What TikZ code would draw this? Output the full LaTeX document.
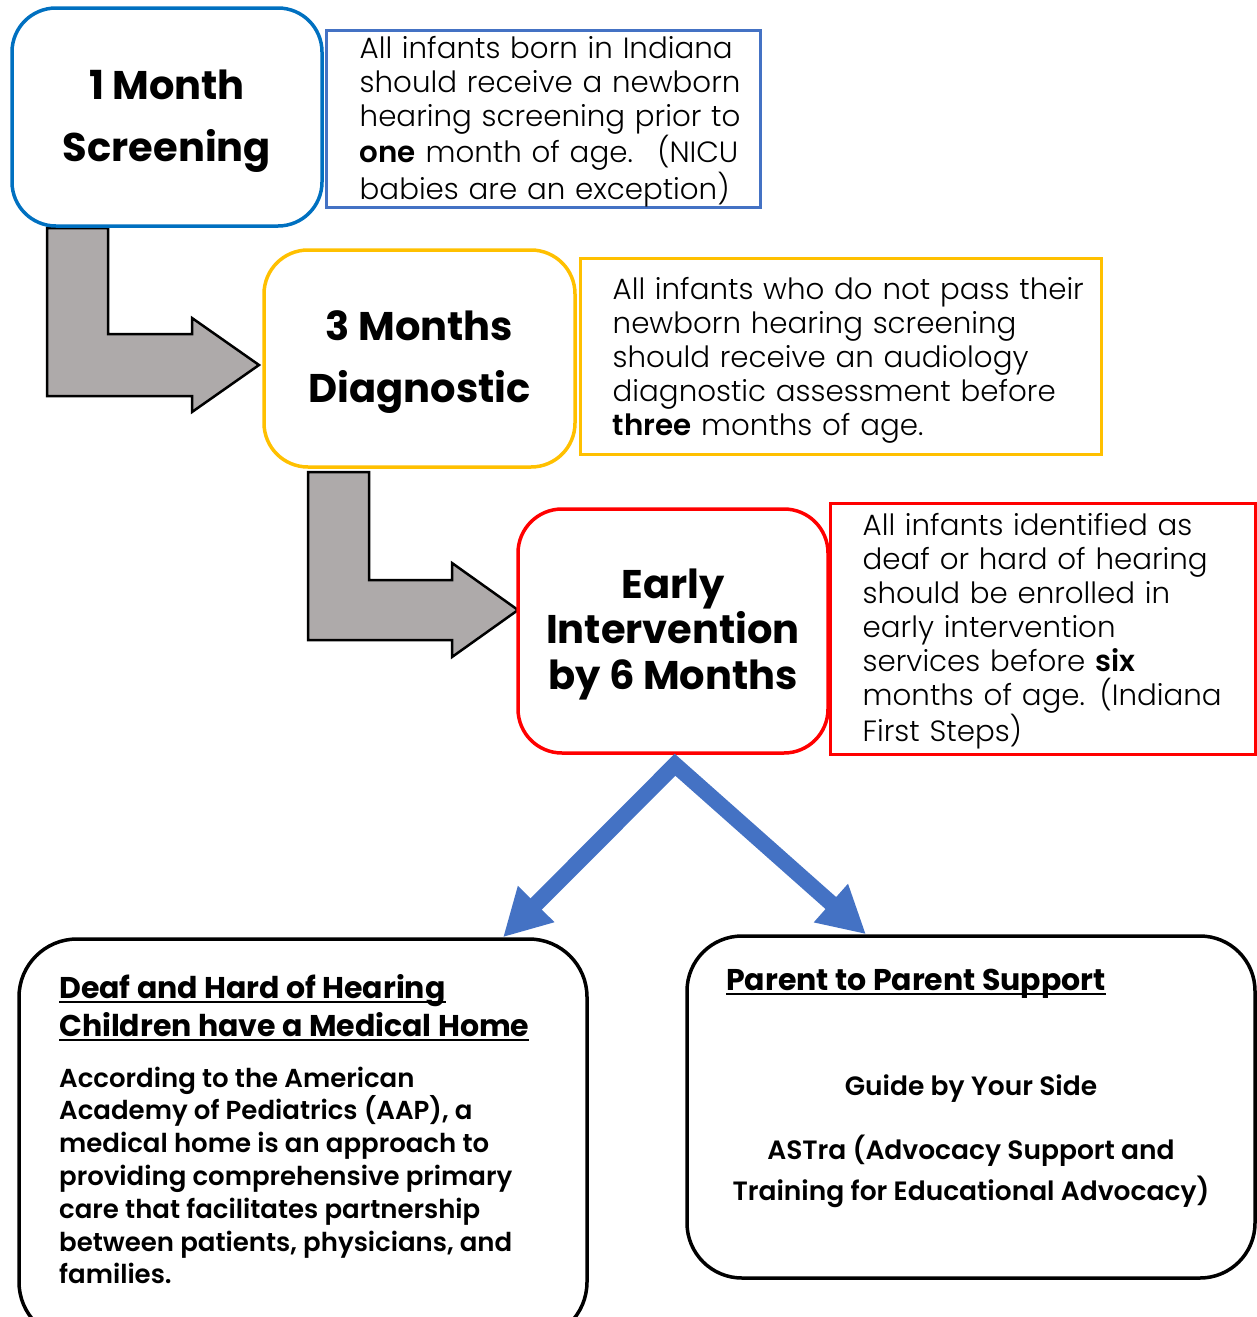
\documentclass[tikz,border=0pt]{standalone}
\usepackage{fontspec}
\setmainfont{Poppins}
\IfFontExistsTF{Poppins Light}{\newfontfamily\lightfont{Poppins Light}}{\newfontfamily\lightfont{Poppins}}
\IfFontExistsTF{Poppins SemiBold}{\newfontfamily\semifont{Poppins SemiBold}}{\newcommand\semifont{\normalfont\bfseries}}
\usetikzlibrary{arrows.meta}
\definecolor{bluebox}{HTML}{0070C0}
\definecolor{bluedesc}{HTML}{4472C4}
\definecolor{yellowbox}{HTML}{FFC000}
\definecolor{redbox}{HTML}{FF0000}
\definecolor{grayfill}{HTML}{AEAAAA}
\newcommand\myul[1]{\setbox0\hbox{#1}\leavevmode\rlap{\rule[-4.5pt]{\wd0}{2.5pt}}\box0}
\begin{document}
\begin{tikzpicture}[x=1pt,y=-1pt,
  stage/.style={draw, rounded corners=44pt, line width=3.5pt, fill=white, inner sep=0pt},
  stagetext/.style={align=center, inner sep=0pt, font=\bfseries\fontsize{40}{62}\selectfont},
  descbox/.style={draw, line width=3pt, inner sep=0pt},
  desctext/.style={anchor=west, inner sep=0pt, align=left, text width=520pt,
    font=\lightfont\fontsize{29.3}{34}\selectfont},
  bigbox/.style={draw, rounded corners=58pt, line width=3.5pt, inner sep=0pt},
  blockarrow/.style={fill=grayfill, draw=black, line width=2.5pt, line join=miter},
  bluearrow/.style={draw=bluedesc, line width=16pt, line join=miter,
    arrows={Triangle[length=47pt,width=48pt]-Triangle[length=47pt,width=48pt]}},
  plain/.style={inner sep=0pt}
]
\useasboundingbox (0,0) rectangle (1257,1317);

% block arrows (behind boxes)
\draw[blockarrow] (47,228) -- (108,228) -- (108,334) -- (192,334) -- (192,318) -- (259,365)
  -- (192,412) -- (192,396) -- (47,396) -- cycle;
\draw[blockarrow] (308,472) -- (369,472) -- (369,580) -- (452,580) -- (452,563) -- (518,610)
  -- (452,657) -- (452,640) -- (308,640) -- cycle;

% stage boxes
\node[stage, draw=bluebox, minimum width=310pt, minimum height=218pt] (b1) at (167,117) {};
\node[stagetext] (s1) at ([yshift=-4pt]b1.center) {1 Month\\Screening};
\node[stage, draw=yellowbox, minimum width=311pt, minimum height=217pt] (b2) at (419.5,358.5) {};
\node[stagetext] (s2) at ([yshift=-3.5pt]b2.center) {3 Months\\Diagnostic};
\node[stage, draw=redbox, minimum width=310pt, minimum height=244pt] (b3) at (673,631) {};
\node[stagetext, font=\bfseries\fontsize{40}{45.5}\selectfont] (s3) at ([yshift=-3pt]b3.center)
  {Early\\Intervention\\by 6 Months};

% description boxes
\node[descbox, draw=bluedesc, minimum width=434pt, minimum height=177pt] (d1) at (543,118.5) {};
\node[desctext] (t1) at ([xshift=35pt,yshift=-3pt]d1.west)
  {All infants born in Indiana\\should receive a newborn\\hearing screening prior to\\{\semifont one} month of age.~ (NICU\\babies are an exception)};
\node[descbox, draw=yellowbox, minimum width=521pt, minimum height=196pt] (d2) at (840.5,356) {};
\node[desctext] (t2) at ([xshift=34pt,yshift=-4pt]d2.west)
  {All infants who do not pass their\\newborn hearing screening\\should receive an audiology\\diagnostic assessment before\\{\semifont three} months of age.};
\node[descbox, draw=redbox, minimum width=425pt, minimum height=251pt] (d3) at (1042.5,628.5) {};
\node[desctext] (t3) at ([xshift=34pt,yshift=-3pt]d3.west)
  {All infants identified as\\deaf or hard of hearing\\should be enrolled in\\early intervention\\services before {\semifont six}\\months of age. (Indiana\\First Steps)};

% bottom boxes
\node[bigbox, minimum width=568pt, minimum height=401pt] (b4) at (303,1139.5) {};
\node[bigbox, rounded corners=55pt, minimum width=568pt, minimum height=342pt] (b5) at (971,1107) {};

\node[plain, anchor=west, align=left, font=\bfseries\fontsize{30}{38}\selectfont] (h4) at (59,1008)
  {\myul{Deaf and Hard of Hearing}\\\myul{Children have a Medical Home}};
\node[plain, anchor=west, align=left, font=\semifont\fontsize{26}{32.8}\selectfont] (p4) at (59,1175.5)
  {According to the American\\Academy of Pediatrics (AAP), a\\medical home is an approach to\\providing comprehensive primary\\care that facilitates partnership\\between patients, physicians, and\\families.};

\node[plain, anchor=west, font=\bfseries\fontsize{30}{38}\selectfont] (h5) at (726,984)
  {\myul{Parent to Parent Support}};
\node[plain, font=\semifont\fontsize{26.5}{32.8}\selectfont] (g5) at (971,1089) {Guide by Your Side};
\node[plain, align=center, font=\semifont\fontsize{26.5}{41}\selectfont] (a5) at (971,1171.5)
  {ASTra (Advocacy Support and\\Training for Educational Advocacy)};

% blue arrows
\coordinate (apex) at ([xshift=2pt,yshift=-10pt]b3.south);
\coordinate (lt) at ([xshift=200pt]b4.north);
\coordinate (rt) at ([xshift=-105pt]b5.north);
\draw[bluearrow] (lt) -- (apex) -- (rt);
\end{tikzpicture}
\end{document}
